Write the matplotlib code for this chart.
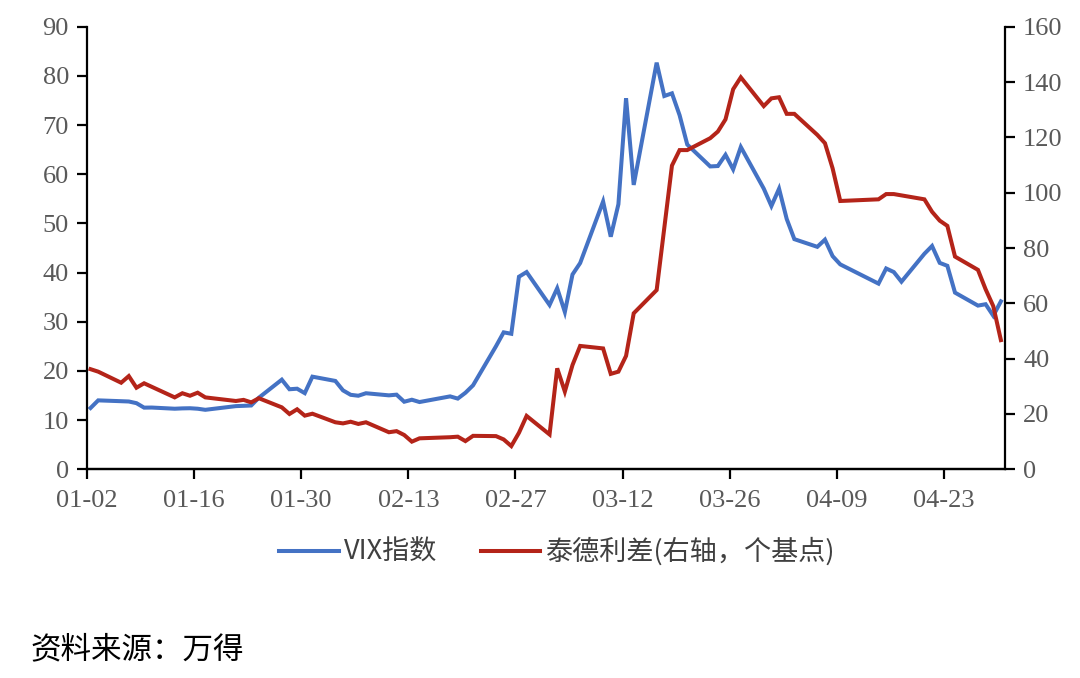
import numpy as np
import pandas as pd
import matplotlib
matplotlib.use('Agg')
import matplotlib.pyplot as plt
import matplotlib.dates as mdates

# VIX index (trading days)
vix_dates = ['2020-01-02', '2020-01-03', '2020-01-06', '2020-01-07', '2020-01-08', '2020-01-09',
             '2020-01-10', '2020-01-13', '2020-01-14', '2020-01-15', '2020-01-16', '2020-01-17',
             '2020-01-21', '2020-01-22', '2020-01-23', '2020-01-24', '2020-01-27', '2020-01-28',
             '2020-01-29', '2020-01-30', '2020-01-31', '2020-02-03', '2020-02-04', '2020-02-05',
             '2020-02-06', '2020-02-07', '2020-02-10', '2020-02-11', '2020-02-12', '2020-02-13',
             '2020-02-14', '2020-02-18', '2020-02-19', '2020-02-20', '2020-02-21', '2020-02-24',
             '2020-02-25', '2020-02-26', '2020-02-27', '2020-02-28', '2020-03-02', '2020-03-03',
             '2020-03-04', '2020-03-05', '2020-03-06', '2020-03-09', '2020-03-10', '2020-03-11',
             '2020-03-12', '2020-03-13', '2020-03-16', '2020-03-17', '2020-03-18', '2020-03-19',
             '2020-03-20', '2020-03-23', '2020-03-24', '2020-03-25', '2020-03-26', '2020-03-27',
             '2020-03-30', '2020-03-31', '2020-04-01', '2020-04-02', '2020-04-03', '2020-04-06',
             '2020-04-07', '2020-04-08', '2020-04-09', '2020-04-14', '2020-04-15', '2020-04-16',
             '2020-04-17', '2020-04-20', '2020-04-21', '2020-04-22', '2020-04-23', '2020-04-24',
             '2020-04-27', '2020-04-28', '2020-04-29', '2020-04-30']
vix = [12.47, 14.02, 13.85, 13.79, 13.45, 12.54,
       12.56, 12.32, 12.39, 12.42, 12.32, 12.10,
       12.85, 12.91, 12.98, 14.56, 18.23, 16.28,
       16.39, 15.49, 18.84, 17.97, 16.05, 15.15,
       14.96, 15.47, 15.04, 15.18, 13.74, 14.15,
       13.68, 14.83, 14.38, 15.56, 17.08, 25.03,
       27.85, 27.56, 39.16, 40.11, 33.42, 36.82,
       31.99, 39.62, 41.94, 54.46, 47.30, 53.90,
       75.47, 57.83, 82.69, 75.91, 76.45, 72.00,
       66.04, 61.59, 61.67, 63.95, 61.00, 65.54,
       57.08, 53.54, 57.06, 50.91, 46.80, 45.24,
       46.70, 43.35, 41.67, 37.76, 40.84, 40.11,
       38.15, 43.83, 45.41, 41.98, 41.38, 35.93,
       33.29, 33.57, 31.23, 34.15]

# TED spread, basis points (right axis)
ted_dates = ['2020-01-02', '2020-01-03', '2020-01-06', '2020-01-07', '2020-01-08', '2020-01-09',
             '2020-01-13', '2020-01-14', '2020-01-15', '2020-01-16', '2020-01-17', '2020-01-21',
             '2020-01-22', '2020-01-23', '2020-01-24', '2020-01-27', '2020-01-28', '2020-01-29',
             '2020-01-30', '2020-01-31', '2020-02-03', '2020-02-04', '2020-02-05', '2020-02-06',
             '2020-02-07', '2020-02-10', '2020-02-11', '2020-02-12', '2020-02-13', '2020-02-14',
             '2020-02-18', '2020-02-19', '2020-02-20', '2020-02-21', '2020-02-24', '2020-02-25',
             '2020-02-26', '2020-02-27', '2020-02-28', '2020-03-02', '2020-03-03', '2020-03-04',
             '2020-03-05', '2020-03-06', '2020-03-09', '2020-03-10', '2020-03-11', '2020-03-12',
             '2020-03-13', '2020-03-16', '2020-03-18', '2020-03-19', '2020-03-20', '2020-03-23',
             '2020-03-24', '2020-03-25', '2020-03-26', '2020-03-27', '2020-03-30', '2020-03-31',
             '2020-04-01', '2020-04-02', '2020-04-03', '2020-04-06', '2020-04-07', '2020-04-08',
             '2020-04-09', '2020-04-14', '2020-04-15', '2020-04-16', '2020-04-20', '2020-04-21',
             '2020-04-22', '2020-04-23', '2020-04-24', '2020-04-27', '2020-04-28', '2020-04-29',
             '2020-04-30']
ted = [36.2, 35.3, 31.3, 33.7, 29.5, 31.1,
       26.0, 27.5, 26.6, 27.7, 26.0, 24.7,
       25.1, 24.2, 25.7, 22.4, 20.0, 21.7,
       19.4, 20.1, 17.0, 16.6, 17.2, 16.4,
       17.0, 13.4, 13.8, 12.4, 10.0, 11.2,
       11.6, 11.8, 10.2, 12.1, 12.0, 10.8,
       8.4, 13.2, 19.3, 12.6, 36.5, 28.1,
       37.7, 44.6, 43.7, 34.5, 35.3, 41.0,
       56.4, 64.8, 109.8, 115.4, 115.4, 119.7,
       122.1, 126.5, 137.4, 141.7, 131.3, 134.1,
       134.5, 128.5, 128.5, 120.9, 117.9, 108.8,
       97.0, 97.6, 99.5, 99.5, 97.6, 93.1,
       89.9, 88.0, 76.9, 72.1, 65.1, 59.0,
       46.7]

tick_dates = ['2020-01-02', '2020-01-16', '2020-01-30', '2020-02-13', '2020-02-27',
              '2020-03-12', '2020-03-26', '2020-04-09', '2020-04-23']

blue = '#4472C4'
red = '#B42419'
gray = '#595959'
tick_font = 'Liberation Serif'
cjk = ['Noto Sans CJK SC', 'DejaVu Sans']

# points sit in the middle of each day (date axis, between tick marks)
half = pd.Timedelta(hours=11)
xv = pd.to_datetime(vix_dates) + half
xt = pd.to_datetime(ted_dates) + half

fig = plt.figure(figsize=(10.8, 6.78), dpi=100)
ax = fig.add_axes([0.0806, 0.3078, 0.8500, 0.6528])
ax2 = ax.twinx()

l1, = ax.plot(xv, vix, color=blue, lw=2.9, label='VIX指数', solid_joinstyle='miter')
l2, = ax2.plot(xt, ted, color=red, lw=2.9, label='泰德利差(右轴，个基点)', solid_joinstyle='miter')

ax.set_xlim(pd.Timestamp('2020-01-02'), pd.Timestamp('2020-05-01'))
ax.set_ylim(0, 90)
ax2.set_ylim(0, 160)
ax.set_yticks(np.arange(0, 91, 10))
ax2.set_yticks(np.arange(0, 161, 20))
ax.set_xticks(pd.to_datetime(tick_dates))
ax.xaxis.set_major_formatter(mdates.DateFormatter('%m-%d'))

for a in (ax, ax2):
    a.spines['top'].set_visible(False)
    for s in ('left', 'right', 'bottom'):
        a.spines[s].set_linewidth(1.6)
        a.spines[s].set_color('black')
    a.tick_params(direction='out', length=7, width=1.6, colors='black',
                  labelcolor=gray, labelsize=19)
    for lab in a.get_xticklabels() + a.get_yticklabels():
        lab.set_fontfamily(tick_font)
ax.spines['right'].set_visible(False)
ax2.spines['left'].set_visible(False)
ax.tick_params(axis='y', pad=6)
ax2.tick_params(axis='y', pad=6)
ax.tick_params(axis='x', pad=8)

leg = fig.legend(handles=[l1, l2], loc='center', bbox_to_anchor=(0.516, 0.186), ncol=2,
                 frameon=False, handlelength=2.2, handletextpad=0.2, columnspacing=1.6,
                 prop={'family': cjk, 'size': 19.5})
for t in leg.get_texts():
    t.set_color('#404040')

fig.text(0.028, 0.041, '资料来源：万得', family=cjk, fontsize=22, color='black',
         ha='left', va='center')

fig.savefig('out.png', dpi=100)
